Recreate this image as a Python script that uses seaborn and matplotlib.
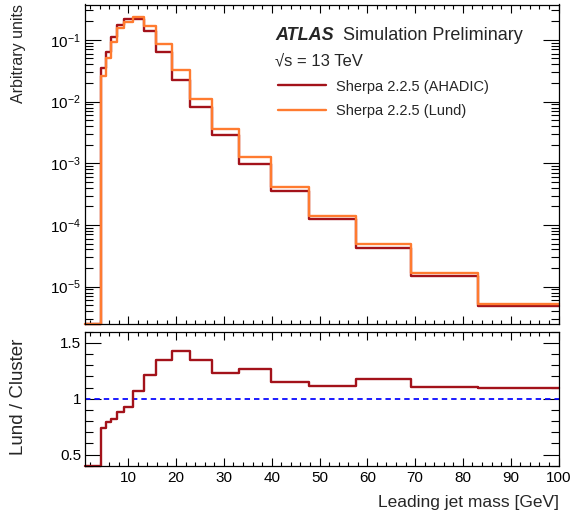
import numpy as np
import pandas as pd
import matplotlib
matplotlib.use("Agg")
import matplotlib.pyplot as plt
import seaborn as sns
from matplotlib.ticker import MultipleLocator, LogLocator, NullFormatter, FixedLocator, FixedFormatter

# ---------------- data ----------------
bin_edges = [1.0, 1.202, 1.445, 1.738, 2.089, 2.512, 3.020, 3.631, 4.365,
             5.248, 6.310, 7.586, 9.120, 10.965, 13.183, 15.849, 19.055,
             22.909, 27.542, 33.113, 39.811, 47.863, 57.544, 69.183, 83.176, 100.0]
ahadic = [0, 0, 0, 0, 0, 0, 0, 0,
          0.0356, 0.0641, 0.1127, 0.175, 0.214, 0.220, 0.141, 0.0641, 0.0227,
          0.00822, 0.0029, 0.00099, 3.52e-4, 1.26e-4, 4.18e-5, 1.48e-5, 4.79e-6]
lund = [0, 0, 0, 0, 0, 0, 0, 0,
        0.0262, 0.0510, 0.0924, 0.1547, 0.198, 0.235, 0.1706, 0.0864, 0.0323,
        0.01108, 0.00356, 0.001252, 4.06e-4, 1.406e-4, 4.93e-5, 1.634e-5, 5.24e-6]
ratio = [0, 0, 0, 0, 0, 0, 0, 0,
         0.735, 0.795, 0.82, 0.884, 0.926, 1.069, 1.21, 1.348, 1.423,
         1.348, 1.227, 1.265, 1.152, 1.116, 1.179, 1.104, 1.093]
series_labels = ["Sherpa 2.2.5 (AHADIC)", "Sherpa 2.2.5 (Lund)"]
x_ticks = [10, 20, 30, 40, 50, 60, 70, 80, 90, 100]
ratio_ticks = [0.5, 1.0, 1.5]
ratio_tick_labels = ["0.5", "1", "1.5"]

RED = "#a3121a"
ORANGE = "#ff7b30"

sns.set_style("ticks")
plt.rcParams["font.family"] = ["Liberation Sans", "DejaVu Sans"]
plt.rcParams["mathtext.fontset"] = "custom"
plt.rcParams["mathtext.rm"] = "Liberation Sans"
plt.rcParams["mathtext.it"] = "Liberation Sans:italic"
plt.rcParams["mathtext.bf"] = "Liberation Sans:bold"
plt.rcParams["axes.unicode_minus"] = False

W, H = 571, 518
fig = plt.figure(figsize=(W / 100, H / 100), dpi=100)

def fx(px):
    return px / W

def fy(py):
    return 1 - py / H

L, R = 85.3, 558.5
ax = fig.add_axes([fx(L), fy(324), fx(R - L), fy(4.5) - fy(324)])
axr = fig.add_axes([fx(L), fy(465.7), fx(R - L), fy(331.7) - fy(465.7)])

YLO, YHI = 2.48e-6, 0.374
RLO, RHI = 0.4, 1.6


def step_frame(edges, vals, lo):
    v = np.maximum(np.asarray(vals, dtype=float), lo)
    return pd.DataFrame({"x": edges, "y": list(v) + [v[-1]]})


ax.set_yscale("log")
for vals, col, lab in [(ahadic, RED, series_labels[0]), (lund, ORANGE, series_labels[1])]:
    sns.lineplot(data=step_frame(bin_edges, vals, YLO), x="x", y="y", ax=ax,
                 drawstyle="steps-post", color=col, lw=1.7, label=lab,
                 estimator=None, sort=False, clip_on=False)

sns.lineplot(data=step_frame(bin_edges, ratio, RLO), x="x", y="y", ax=axr,
             drawstyle="steps-post", color=RED, lw=1.7,
             estimator=None, sort=False, clip_on=False)
axr.axhline(1.0, color="#0a0aff", lw=1.3, ls=(0, (3, 2.2)), zorder=1)

# ---------------- axes styling ----------------
for a in (ax, axr):
    a.set_xlim(1, 100)
    a.set_xlabel("")
    a.set_ylabel("")
    for s in a.spines.values():
        s.set_linewidth(0.9)
        s.set_color("black")
    a.xaxis.set_major_locator(FixedLocator(x_ticks))
    a.xaxis.set_minor_locator(MultipleLocator(2))
    a.tick_params(which="both", direction="in", top=True, right=True, colors="black",
                  width=0.8, labelsize=11)
    a.tick_params(axis="x", which="major", length=5.5, pad=3.5)
    a.tick_params(axis="x", which="minor", length=3)
    a.tick_params(axis="y", which="major", length=11.5, pad=3)
    a.tick_params(axis="y", which="minor", length=5.8)

ax.set_ylim(YLO, YHI)
ax.yaxis.set_major_locator(LogLocator(base=10, numticks=20))
ax.yaxis.set_minor_locator(LogLocator(base=10, subs=np.arange(2, 10), numticks=100))
ax.yaxis.set_minor_formatter(NullFormatter())
ax.tick_params(axis="x", labelbottom=False)

axr.set_ylim(RLO, RHI)
axr.yaxis.set_major_locator(FixedLocator(ratio_ticks))
axr.yaxis.set_major_formatter(FixedFormatter(ratio_tick_labels))
axr.yaxis.set_minor_locator(MultipleLocator(0.1))
axr.xaxis.set_major_formatter(FixedFormatter([str(t) for t in x_ticks]))

# ---------------- legend & texts ----------------
ax.legend(frameon=False, loc="upper left", bbox_to_anchor=(fx(278), fy(79.5)),
          bbox_transform=fig.transFigure, fontsize=10.5, handlelength=3.3,
          handletextpad=0.7, labelspacing=0.72, borderpad=0, borderaxespad=0)

fig.text(fx(275), fy(40), "ATLAS", fontsize=13, fontweight="bold", fontstyle="italic",
         ha="left", va="baseline")
fig.text(fx(343.3), fy(40), "Simulation Preliminary", fontsize=13, ha="left", va="baseline")
fig.text(fx(275), fy(65.5), "\u221as = 13 TeV", fontsize=12, ha="left", va="baseline")

fig.text(fx(19), fy(4), "Arbitrary units", rotation=90, ha="center", va="top", fontsize=11.5)
fig.text(fx(19), fy(396.5), "Lund / Cluster", rotation=90, ha="center", va="center", fontsize=13.5)
fig.text(fx(558.5), fy(506.5), "Leading jet mass [GeV]", ha="right", va="baseline", fontsize=12.5)

fig.savefig("out.png", dpi=100)
